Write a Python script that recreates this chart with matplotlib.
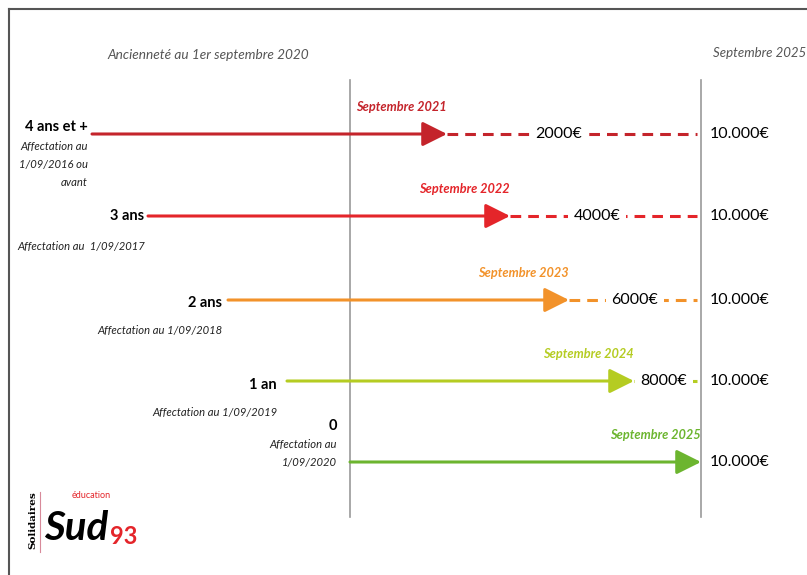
import matplotlib
matplotlib.use("Agg")
import matplotlib.pyplot as plt

# ---- data ----
seniority = ["4 ans et +", "3 ans", "2 ans", "1 an", "0"]
affectation = ["Affectation au\n1/09/2016 ou\navant",
               "Affectation au  1/09/2017",
               "Affectation au 1/09/2018",
               "Affectation au 1/09/2019",
               "Affectation au\n1/09/2020"]
milestones = ["Septembre 2021", "Septembre 2022", "Septembre 2023",
              "Septembre 2024", "Septembre 2025"]
intermediate = [2000, 4000, 6000, 8000, None]
final_amount = [10000, 10000, 10000, 10000, 10000]
header_left = "Ancienneté au 1er septembre 2020"
header_right = "Septembre 2025"

# ---- layout (pixel coordinates) ----
row_y = [134, 216, 300, 381, 462]
arrow_start = [92, 148, 228, 287, 350]
arrow_tip = [447, 510, 569, 634, 701]
inter_x = [559, 597, 635, 664, None]
seniority_pos = [(88, 127), (144, 216), (222, 303), (277, 385), (337, 426)]
affect_pos = [(88, 141), (145, 241), (222, 325), (277, 407), (337, 439)]
colors = ["#c4242b", "#e4252a", "#f2922a", "#b5cc22", "#6cb52f"]
line_x = [350, 701]

FONT = ["Lato", "DejaVu Sans"]
plt.rcParams["font.family"] = FONT

def fmt(v):
    if v >= 10000:
        return f"{v // 1000}.{v % 1000:03d}€"
    return f"{v}€"

fig = plt.figure(figsize=(8.07, 5.75), dpi=100)
ax = fig.add_axes([0, 0, 1, 1])
ax.set_xlim(0, 807)
ax.set_ylim(575, 0)
ax.axis("off")

# frame
ax.plot([8.5, 8.5], [575, 8.5], color="#555555", lw=1.5)
ax.plot([8.5, 807], [8.5, 8.5], color="#555555", lw=1.5)

# vertical reference lines
for lx in line_x:
    ax.plot([lx, lx], [80, 517], color="#9a9a9a", lw=1.2, zorder=1)

ax.text(208, 55, header_left, ha="center", va="center", style="italic",
        color="#555555", fontsize=9.8)
ax.text(713, 53, header_right, ha="left", va="center", style="italic",
        color="#555555", fontsize=9.5)

for i in range(5):
    y = row_y[i]
    c = colors[i]
    # dashed continuation
    if inter_x[i] is not None:
        ax.plot([arrow_tip[i], 697], [y, y], color=c, lw=2.2,
                linestyle=(0, (3.5, 2.3)), zorder=2)
        ax.text(inter_x[i], y, fmt(intermediate[i]), ha="center", va="center",
                fontsize=11.5, color="black", zorder=4,
                bbox=dict(boxstyle="square,pad=0.35", fc="white", ec="none"))
    # arrow
    ax.annotate("", xy=(arrow_tip[i], y), xytext=(arrow_start[i], y),
                arrowprops=dict(arrowstyle="-|>,head_length=1.0,head_width=0.5",
                                lw=2.2, color=c, shrinkA=0, shrinkB=0,
                                mutation_scale=15), zorder=3)
    ax.text(arrow_tip[i], y - 27, milestones[i], ha="right", va="center",
            fontsize=9.2, fontweight="bold", style="italic", color=c)
    ax.text(710, y, fmt(final_amount[i]), ha="left", va="center",
            fontsize=11.5, color="black")
    sx, sy = seniority_pos[i]
    ax.text(sx, sy, seniority[i], ha="right", va="center", fontsize=10.5,
            fontweight="bold", color="black")
    axx, ayy = affect_pos[i]
    ax.text(axx, ayy, affectation[i], ha="right", va="top", fontsize=8.1,
            style="italic", color="#222222", linespacing=1.75)

# logo
ax.text(33, 520, "Solidaires", rotation=90, ha="center", va="center",
        fontsize=7.5, fontweight="bold", family="DejaVu Serif", color="black")
ax.plot([40, 40], [492, 552], color="#d88a9a", lw=0.8)
ax.text(44, 528, "Sud", ha="left", va="center", fontsize=29,
        fontweight="bold", style="italic", color="black")
ax.text(72, 496, "éducation", ha="left", va="center", fontsize=6.5,
        color="#e4252a")
ax.text(110, 536, "93", ha="left", va="center", fontsize=17,
        fontweight="bold", color="#e4252a")

fig.savefig("out.png", dpi=100)
